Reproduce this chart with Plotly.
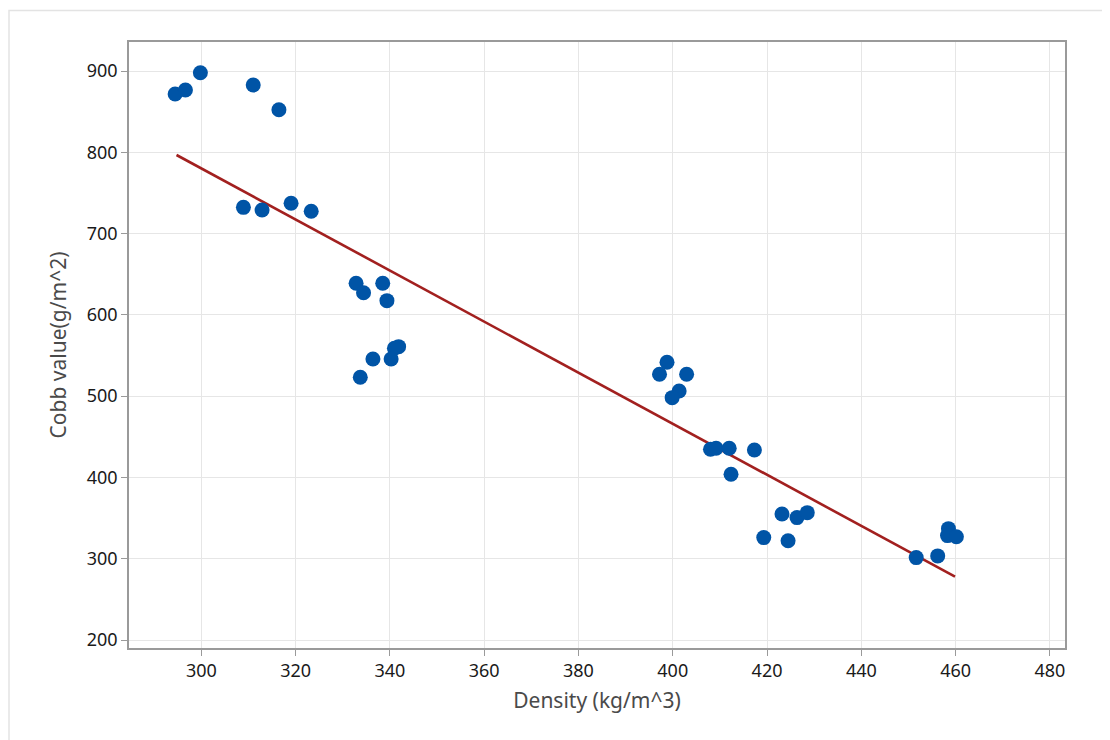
import plotly.graph_objects as go

density = [294.45, 296.63, 299.80, 311.01, 316.46, 308.93, 312.89, 319.04, 323.31,
           332.83, 334.41, 338.48, 339.37, 341.85, 340.96, 340.26, 336.40, 333.72,
           398.78, 397.19, 402.94, 401.35, 399.87, 408.00, 409.19, 411.97, 417.32,
           412.36, 423.17, 426.35, 428.53, 419.30, 424.46,
           451.64, 456.20, 458.48, 458.28, 460.16]
cobb = [871.7, 876.6, 897.9, 882.8, 852.4, 732.3, 729.0, 737.3, 727.4,
        638.9, 627.3, 638.9, 617.5, 560.9, 558.9, 545.8, 545.8, 523.2,
        541.7, 526.9, 526.9, 506.4, 498.2, 434.7, 435.9, 435.9, 433.8,
        403.9, 355.1, 350.6, 356.7, 326.0, 322.2,
        301.4, 303.5, 337.0, 328.5, 327.0]
fit_x = [294.74, 459.87]
fit_y = [796.7, 278.0]

x_ticks = [300, 320, 340, 360, 380, 400, 420, 440, 460, 480]
y_ticks = [200, 300, 400, 500, 600, 700, 800, 900]

fig = go.Figure()
fig.add_trace(go.Scatter(x=fit_x, y=fit_y, mode="lines",
                         line=dict(color="#A2201F", width=2.6), showlegend=False))
fig.add_trace(go.Scatter(x=density, y=cobb, mode="markers",
                         marker=dict(color="#0054A6", size=15), showlegend=False))

axis_common = dict(showline=True, linecolor="#9a9a9a", linewidth=1.5, mirror=True,
                   ticks="outside", ticklen=6, tickcolor="#9a9a9a", tickwidth=1,
                   showgrid=True, gridcolor="#e6e6e6", gridwidth=1, zeroline=False,
                   tickfont=dict(family="Noto Sans", size=18, color="#1a1a1a"),
                   title_font=dict(family="Noto Sans", size=21, color="#4a4a4a"))

fig.update_xaxes(range=[284.66, 483.2], tickvals=x_ticks,
                 title_text="Density (kg/m^3)", title_standoff=12, **axis_common)
fig.update_yaxes(range=[190.2, 935.7], tickvals=y_ticks,
                 title_text="Cobb value(g/m^2)", title_standoff=14, **axis_common)

fig.add_shape(type="rect", xref="paper", yref="paper",
              x0=-0.1282, x1=1.06, y0=-0.17, y1=1.052,
              line=dict(color="#e3e3e3", width=1.5), layer="below")

fig.update_layout(width=1103, height=732,
                  margin=dict(l=121, r=46, t=34, b=92),
                  plot_bgcolor="white", paper_bgcolor="white",
                  font=dict(family="Noto Sans"))

fig.write_html("out.html")
